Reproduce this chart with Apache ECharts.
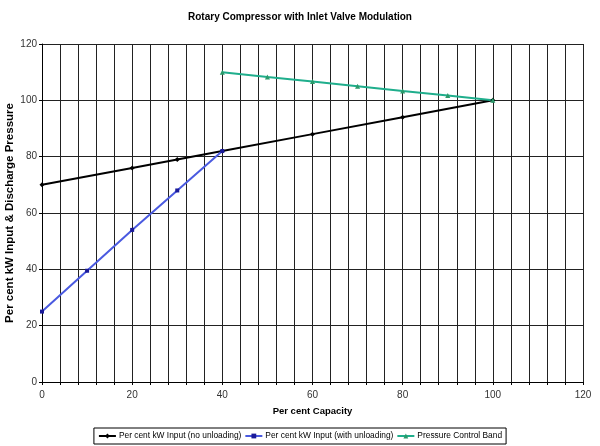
<!DOCTYPE html>
<html>
<head>
<meta charset="utf-8">
<script src="https://cdn.jsdelivr.net/npm/echarts@6/dist/echarts.min.js"></script>
<style>
  html, body { margin: 0; padding: 0; background: #fff; }
  #chart { width: 600px; height: 446px; }
</style>
</head>
<body>
<div id="chart"></div>
<script>
// values
const noUnloadX = [0, 20, 30, 40, 60, 80, 100];
const noUnloadY = [70, 76, 79, 82, 88, 94, 100];
const unloadX = [0, 10, 20, 30, 40];
const unloadY = [25, 39.5, 54, 68, 82];
const bandX = [40, 50, 60, 70, 80, 90, 100];
const bandY = [110, 108.3, 106.7, 105, 103.3, 101.7, 100];
const seriesNames = [
  'Per cent kW Input (no unloading)',
  'Per cent kW Input (with unloading)',
  'Pressure Control Band'
];

function pairs(xs, ys) {
  return xs.map(function (x, i) { return [x, ys[i]]; });
}

const font = 'Liberation Sans, Arial, sans-serif';
const gridColor = '#222';

let myChart = echarts.init(document.getElementById('chart'));
let option = {
  animation: false,
  backgroundColor: '#fff',
  title: {
    text: 'Rotary Compressor with Inlet Valve Modulation',
    left: 'center',
    top: 7,
    textStyle: { fontFamily: font, fontSize: 10, fontWeight: 'bold', color: '#000' }
  },
  legend: {
    bottom: 2,
    left: 'center',
    data: seriesNames,
    itemWidth: 17,
    itemHeight: 6,
    itemGap: 3,
    padding: [4, 4, 4, 4],
    borderColor: '#000',
    borderWidth: 1,
    borderRadius: 0,
    textStyle: { fontFamily: font, fontSize: 8.4, color: '#000', padding: [0, 0, 0, -2] }
  },
  grid: { left: 42, right: 17, top: 44, bottom: 64, outerBoundsMode: 'none', containLabel: false },
  xAxis: {
    type: 'value',
    min: 0,
    max: 120,
    interval: 20,
    name: 'Per cent Capacity',
    nameLocation: 'middle',
    nameGap: 24,
    nameMoveOverlap: false,
    nameTextStyle: { fontFamily: font, fontSize: 9.5, fontWeight: 'bold', color: '#000' },
    axisLine: { show: true, lineStyle: { color: '#000', width: 1 } },
    axisTick: { show: true, length: 3, lineStyle: { color: '#000' } },
    minorTick: { show: true, splitNumber: 5, length: 3, lineStyle: { color: '#000' } },
    axisLabel: { fontFamily: font, fontSize: 10, color: '#333', margin: 8 },
    splitLine: { show: true, lineStyle: { color: gridColor, width: 1 } },
    minorSplitLine: { show: true, lineStyle: { color: gridColor, width: 1 } }
  },
  yAxis: {
    type: 'value',
    min: 0,
    max: 120,
    interval: 20,
    name: 'Per cent kW Input & Discharge Pressure',
    nameLocation: 'middle',
    nameGap: 26,
    nameMoveOverlap: false,
    nameTextStyle: { fontFamily: font, fontSize: 11.5, fontWeight: 'bold', color: '#000' },
    axisLine: { show: true, lineStyle: { color: '#000', width: 1 } },
    axisTick: { show: true, length: 3, lineStyle: { color: '#000' } },
    axisLabel: { fontFamily: font, fontSize: 10, color: '#333', margin: 5 },
    splitLine: { show: true, lineStyle: { color: gridColor, width: 1 } }
  },
  series: [
    {
      name: seriesNames[0],
      type: 'line',
      data: pairs(noUnloadX, noUnloadY),
      symbol: 'diamond',
      symbolSize: 5,
      color: '#000',
      lineStyle: { color: '#000', width: 2 },
      itemStyle: { color: '#000' },
      z: 3
    },
    {
      name: seriesNames[1],
      type: 'line',
      data: pairs(unloadX, unloadY),
      symbol: 'rect',
      symbolSize: 4,
      color: '#3344dd',
      lineStyle: { color: '#4a5ae0', width: 2 },
      itemStyle: { color: '#1a1a99' },
      z: 4
    },
    {
      name: seriesNames[2],
      type: 'line',
      data: pairs(bandX, bandY),
      symbol: 'triangle',
      symbolSize: 5,
      color: '#2a9a50',
      lineStyle: { color: '#1fae8c', width: 2 },
      itemStyle: { color: '#2a9a6a' },
      z: 3
    }
  ]
};
myChart.setOption(option);
</script>
</body>
</html>
